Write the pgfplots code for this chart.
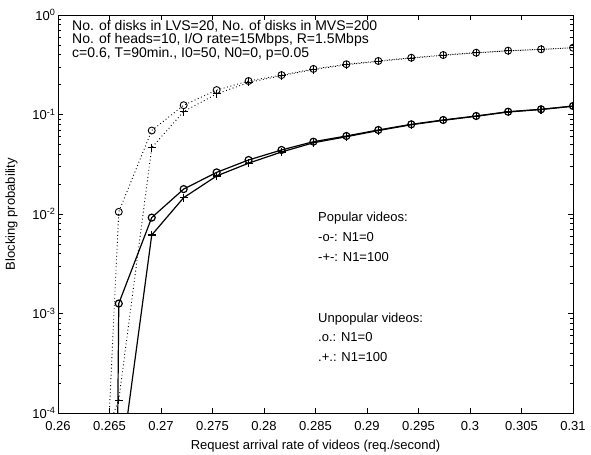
\documentclass[border=0pt]{standalone}
\usepackage{fontspec}
\setmainfont{Liberation Sans}
\usepackage{pgfplots}
\pgfplotsset{compat=1.18}
\begin{document}
\begin{tikzpicture}[x=1bp,y=1bp]
\begin{axis}[
  scale only axis, width=515bp, height=398bp,
  ymode=log, xmin=0.26, xmax=0.31, ymin=1e-4, ymax=1,
  xtick={0.26,0.265,0.27,0.275,0.28,0.285,0.29,0.295,0.3,0.305,0.31},
  xticklabels={0.26,0.265,0.27,0.275,0.28,0.285,0.29,0.295,0.3,0.305,0.31},
  ytick={1e-4,1e-3,1e-2,1e-1,1},
  yticklabels={10\textsuperscript{-4},10\textsuperscript{-3},10\textsuperscript{-2},10\textsuperscript{-1},10\textsuperscript{0}},
  tick align=inside,
  major tick length=5bp, minor tick length=3bp,
  every tick/.style={black, line width=0.6bp},
  axis line style={line width=0.9bp},
  font=\fontsize{13bp}{14bp}\selectfont,
  tick label style={font=\fontsize{13bp}{14bp}\selectfont},
  xticklabel style={yshift=-5bp},
  yticklabel style={xshift=1bp},
  xlabel={Request arrival rate of videos (req./second)},
  ylabel={Blocking probability},
  xlabel style={yshift=-3bp},
  ylabel style={yshift=8bp},
  clip marker paths=true,
]
\coordinate (O) at (rel axis cs:0,0);
% Popular videos, N1=0
\addplot[black, line width=1.2bp, mark=o, mark size=3.5bp, mark indices={1,...,15}] coordinates {
(0.2627,1e-40) (0.2659,0.00126) (0.2691,0.0092) (0.2722,0.0178) (0.2754,0.0262) (0.2785,0.0349)
(0.2817,0.0440) (0.2848,0.0533) (0.2880,0.0608) (0.2911,0.0699) (0.2943,0.0797)
(0.2974,0.0881) (0.3006,0.0966) (0.3037,0.1067) (0.3069,0.1128) (0.3100,0.1217)};
% Popular videos, N1=100
\addplot[black, line width=1.2bp, mark=+, mark size=4bp, mark indices={1,...,14}] coordinates {
(0.2659,0.000021) (0.2691,0.00615) (0.2722,0.0146) (0.2754,0.0241) (0.2785,0.0324)
(0.2817,0.0420) (0.2848,0.0520) (0.2880,0.0598) (0.2911,0.0690) (0.2943,0.0789)
(0.2974,0.0874) (0.3006,0.0960) (0.3037,0.1060) (0.3069,0.1122) (0.3100,0.1210)};
% Unpopular videos, N1=0
\addplot[black, line width=0.9bp, dash pattern=on 0.9bp off 2.6bp, mark=o, mark size=3.5bp, mark options={solid}, mark indices={1,...,15}] coordinates {
(0.2627,1e-9) (0.2659,0.0105) (0.2691,0.069) (0.2722,0.124) (0.2754,0.176) (0.2785,0.217)
(0.2817,0.249) (0.2848,0.287) (0.2880,0.320) (0.2911,0.345) (0.2943,0.372)
(0.2974,0.396) (0.3006,0.418) (0.3037,0.438) (0.3069,0.452) (0.3100,0.469)};
% Unpopular videos, N1=100
\addplot[black, line width=0.9bp, dash pattern=on 0.9bp off 2.6bp, mark=+, mark size=4bp, mark options={solid}, mark indices={1,...,15}] coordinates {
(0.2627,0.000019) (0.2659,0.000135) (0.2691,0.0464) (0.2722,0.107) (0.2754,0.161) (0.2785,0.210)
(0.2817,0.245) (0.2848,0.283) (0.2880,0.316) (0.2911,0.342) (0.2943,0.369)
(0.2974,0.393) (0.3006,0.416) (0.3037,0.436) (0.3069,0.451) (0.3100,0.468)};
% annotations
\begin{scope}[font=\fontsize{14bp}{14bp}\selectfont]
\node[anchor=base west, inner sep=0] at ([xshift=14bp,yshift=-15.5bp]rel axis cs:0,1) {No. of disks in LVS=20, No. of disks in MVS=200};
\node[anchor=base west, inner sep=0] at ([xshift=14bp,yshift=-29bp]rel axis cs:0,1) {No. of heads=10, I/O rate=15Mbps, R=1.5Mbps};
\node[anchor=base west, inner sep=0] at ([xshift=14bp,yshift=-42.5bp]rel axis cs:0,1) {c=0.6, T=90min., I0=50, N0=0, p=0.05};
\end{scope}
\node[anchor=base west, inner sep=0] at ([xshift=260bp,yshift=-206.5bp]rel axis cs:0,1) {Popular videos:};
\node[anchor=base west, inner sep=0] at ([xshift=260bp,yshift=-226.5bp]rel axis cs:0,1) {-o-: N1=0};
\node[anchor=base west, inner sep=0] at ([xshift=260bp,yshift=-246.5bp]rel axis cs:0,1) {-+-: N1=100};
\node[anchor=base west, inner sep=0] at ([xshift=260bp,yshift=-307.5bp]rel axis cs:0,1) {Unpopular videos:};
\node[anchor=base west, inner sep=0] at ([xshift=260bp,yshift=-326.5bp]rel axis cs:0,1) {.o.: N1=0};
\node[anchor=base west, inner sep=0] at ([xshift=260bp,yshift=-346.5bp]rel axis cs:0,1) {.+.: N1=100};
\end{axis}
\pgfresetboundingbox
\useasboundingbox (O) ++(-58bp,-42bp) rectangle ++(591bp,455bp);
\end{tikzpicture}
\end{document}
